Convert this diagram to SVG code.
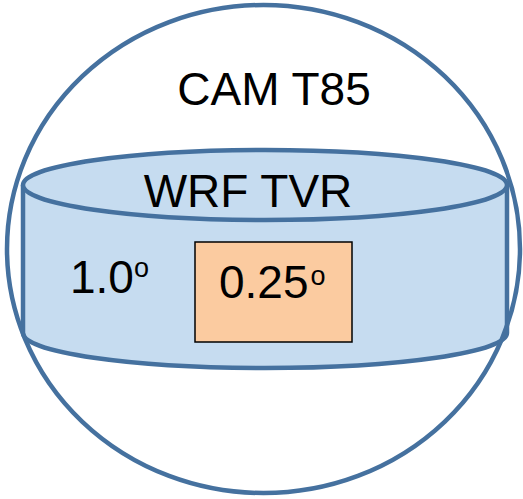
<svg xmlns="http://www.w3.org/2000/svg" width="523" height="499" viewBox="0 0 523 499">
<style>
.ln{stroke:#45719f;stroke-width:4.5;}
.t{font-family:"Liberation Sans",Arial,sans-serif;fill:#000;}
</style>
<rect width="523" height="499" fill="#fff"/>
<g id="cylinder">
<path d="M23,185 L23,333 A242,35 0 0 0 507,333 L507,185 Z" fill="#c6dcf0" stroke="none"/>
<path d="M23,185 L23,333 A242,35 0 0 0 507,333 L507,185" fill="none" class="ln"/>
<ellipse cx="265" cy="185" rx="242" ry="35" fill="#c6dcf0" class="ln"/>
<text class="t" x="248" y="207" font-size="46" text-anchor="middle">WRF TVR</text>
<text class="t" x="70" y="293" font-size="46">1.0<tspan font-size="27" dy="-16">o</tspan></text>
</g>
<g id="inner">
<rect x="195" y="242" width="157" height="100" fill="#fbcba0" stroke="#000" stroke-width="1.5"/>
<text class="t" x="219" y="298" font-size="46">0.25<tspan font-size="27" dx="2" dy="-13">o</tspan></text>
</g>
<g id="sphere">
<ellipse cx="263.5" cy="249" rx="256.5" ry="244" fill="none" class="ln"/>
<text class="t" x="274" y="105" font-size="46" text-anchor="middle">CAM T85</text>
</g>
<g id="connectors"/>
</svg>
